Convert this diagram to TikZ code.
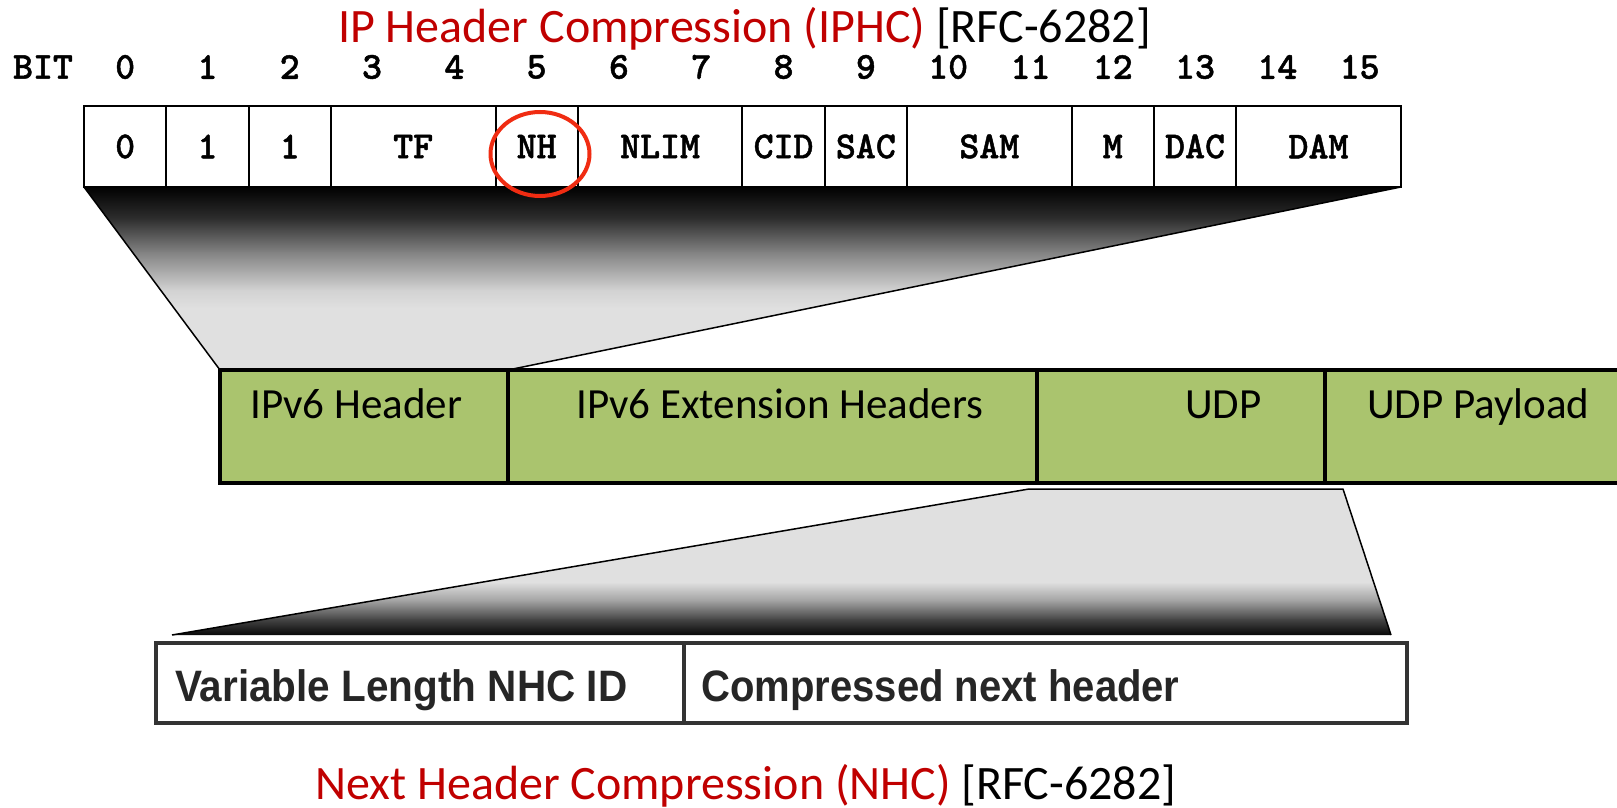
\documentclass[tikz,border=0pt]{standalone}
\usepackage{fontspec}
\usepackage{graphicx}
\setmainfont{Carlito}
\newfontfamily\nhcfont{Liberation Sans}
\newfontfamily\bitfont[FakeBold=1.2]{lmmonolt10-bold.otf}
\usetikzlibrary{shapes.geometric}

\definecolor{titlered}{RGB}{192,0,0}
\definecolor{ringred}{RGB}{240,44,18}
\definecolor{pktgreen}{RGB}{170,196,110}
\definecolor{funnelgray}{RGB}{224,224,224}
\definecolor{boxgray}{RGB}{51,51,51}
\definecolor{nhctext}{RGB}{38,38,38}
\definecolor{g20}{RGB}{45,45,45}
\definecolor{g55}{RGB}{130,130,130}
\definecolor{g84}{RGB}{210,210,210}
\definecolor{g63}{RGB}{160,160,160}
\definecolor{g27}{RGB}{70,70,70}

\begin{document}
\begin{tikzpicture}[x=1pt,y=-1pt,
  monofont/.style={font=\bitfont\fontsize{38}{40}\selectfont},
  bitcell/.style={draw=black, line width=2pt, fill=white, minimum height=81pt,
    minimum width=#1*82.3pt, inner sep=0pt, outer sep=0pt, anchor=north west, monofont},
  bitnum/.style={monofont, inner sep=0pt, anchor=center},
  pkt/.style={draw=black, line width=4pt, fill=pktgreen, minimum height=113pt,
    minimum width=#1, inner sep=0pt, outer sep=0pt, anchor=north west},
  pktlabel/.style={font=\fontsize{43}{46}\selectfont, inner sep=0pt, anchor=base west},
  nhcbox/.style={draw=boxgray, line width=3.5pt, fill=white, minimum height=80pt,
    minimum width=#1, inner sep=0pt, outer sep=0pt, anchor=north west},
  nhclabel/.style={font=\nhcfont\bfseries\fontsize{44}{48}\selectfont, text=nhctext,
    inner sep=0pt, anchor=base west},
  title/.style={font=\fontsize{48}{52}\selectfont, inner sep=0pt, anchor=base west},
  edge/.style={draw=black, line width=1.5pt, line join=round}
]
\clip (0,0) rectangle (1617,808);
\fill[white] (0,0) rectangle (1617,808);

% headline
\node[title] (iphc) at (338,43) {\textcolor{titlered}{IP Header Compression (IPHC)} [RFC-6282]};

% bit ruler
\node[bitnum] (bitlabel) at (43,67) {BIT};
\foreach \k in {0,...,15}
  \node[bitnum] (b\k) at ({84+82.3*(\k+0.5)},67) {\k};

% upper funnel (IPHC bits -> IPv6 header)
\coordinate (hdrsw) at (84,187);
\coordinate (hdrse) at (1400.8,187);
\coordinate (pktnw) at (220,370);
\coordinate (pktne) at (508,370);
\begin{scope}
  \clip (hdrsw) -- (hdrse) -- (pktne) -- (pktnw) -- cycle;
  \shade[top color=black, bottom color=g20] (0,186) rectangle (1617,218.5);
  \shade[top color=g20, bottom color=g55] (0,218) rectangle (1617,252.5);
  \shade[top color=g55, bottom color=g84] (0,252) rectangle (1617,290.5);
  \shade[top color=g84, bottom color=funnelgray] (0,290) rectangle (1617,308.5);
  \fill[funnelgray] (0,308) rectangle (1617,372);
\end{scope}

% IPHC header bits
\foreach \s/\w/\t/\n in {0/1/0/c0, 1/1/1/c1, 2/1/1/c2, 3/2/TF/c3, 5/1/NH/c5,
    6/2/NLIM/c6, 8/1/CID/c8, 9/1/SAC/c9, 10/2/SAM/c10, 12/1/M/c12,
    13/1/DAC/c13, 14/2/DAM/c14}
  \node[bitcell=\w] (\n) at ({84+82.3*\s},106) {\t};

\draw[edge] (c0.south west) -- (pktnw);
\draw[edge] (c14.south east) -- (pktne);

% lower funnel (UDP -> NHC)
\coordinate (udptl) at (1029,489);
\coordinate (udptr) at (1343,489);
\coordinate (nhcbl) at (172,635);
\coordinate (nhcbr) at (1391,635);
\begin{scope}
  \clip (udptl) -- (udptr) -- (nhcbr) -- (nhcbl) -- cycle;
  \fill[funnelgray] (0,487) rectangle (1617,582.5);
  \shade[top color=funnelgray, bottom color=g63] (0,582) rectangle (1617,601.5);
  \shade[top color=g63, bottom color=g27] (0,601) rectangle (1617,619.5);
  \shade[top color=g27, bottom color=black] (0,619) rectangle (1617,637);
\end{scope}
\draw[edge] (nhcbl) -- (udptl) -- (udptr) -- (nhcbr);

% packet row
\node[pkt=288pt] (p1) at (220,370) {};
\node[pkt=529pt] (p2) at (p1.north east) {};
\node[pkt=288pt] (p3) at (p2.north east) {};
\node[pkt=400pt] (p4) at (p3.north east) {};
\node[pktlabel] (l1) at (250,418) {IPv6 Header};
\node[pktlabel] (l2) at (576,418) {IPv6 Extension Headers};
\node[pktlabel] (l3) at (1185,418) {UDP};
\node[pktlabel] (l4) at (1367,418) {UDP Payload};

% NH ring
\node[draw=ringred, line width=4pt, ellipse, minimum width=99pt,
  minimum height=84pt, inner sep=0pt] (ring) at (540,154) {};

% NHC row
\node[nhcbox=528pt] (q1) at (156,643) {};
\node[nhcbox=723pt] (q2) at (q1.north east) {};
\node[nhclabel] (m1) at (175,701) {\scalebox{0.92}[1]{Variable Length NHC ID}};
\node[nhclabel] (m2) at (701,701) {\scalebox{0.91}[1]{Compressed next header}};

% footline
\node[title] (nhc) at (315,799) {\textcolor{titlered}{Next Header Compression (NHC)} [RFC-6282]};
\end{tikzpicture}
\end{document}
